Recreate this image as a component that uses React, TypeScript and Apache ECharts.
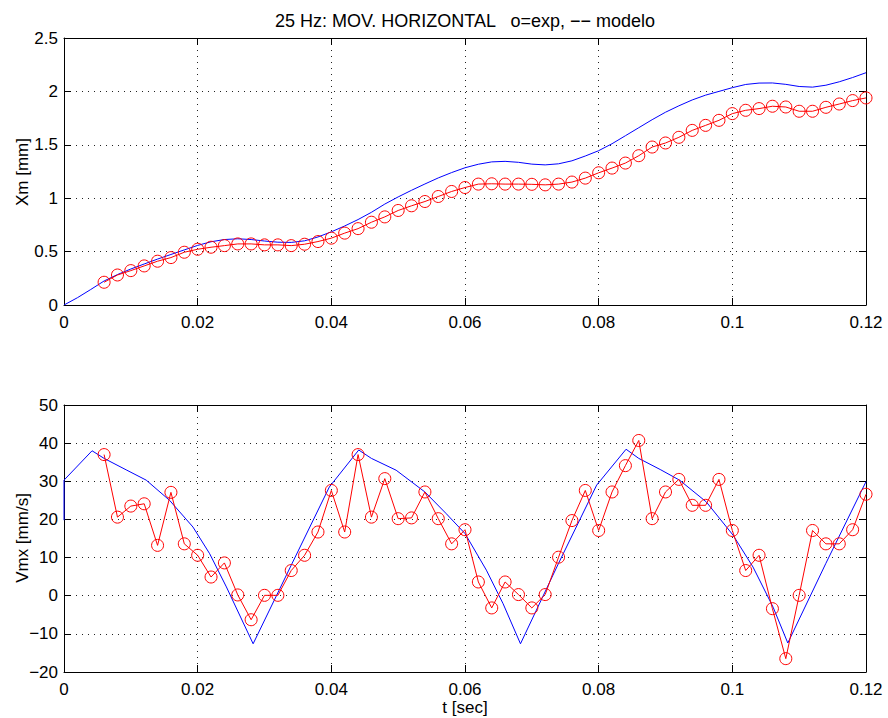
import React, { useEffect, useRef } from "react";
import * as echarts from "echarts";

// ---- data ----
const expTime = [
  0.006, 0.008, 0.01, 0.012, 0.014, 0.016, 0.018, 0.02,
  0.022, 0.024, 0.026, 0.028, 0.03, 0.032, 0.034, 0.036, 0.038, 0.04,
  0.042, 0.044, 0.046, 0.048, 0.05, 0.052, 0.054, 0.056, 0.058, 0.06,
  0.062, 0.064, 0.066, 0.068, 0.07, 0.072, 0.074, 0.076, 0.078, 0.08,
  0.082, 0.084, 0.086, 0.088, 0.09, 0.092, 0.094, 0.096, 0.098, 0.1,
  0.102, 0.104, 0.106, 0.108, 0.11, 0.112, 0.114, 0.116, 0.118, 0.12,
];

const expPosition = [
  0.213, 0.281, 0.322, 0.366, 0.41, 0.444, 0.494, 0.522,
  0.541, 0.556, 0.572, 0.572, 0.563, 0.563, 0.556, 0.569, 0.594, 0.626,
  0.673, 0.715, 0.775, 0.825, 0.885, 0.929, 0.969, 1.016, 1.063, 1.1,
  1.132, 1.135, 1.132, 1.132, 1.13, 1.125, 1.132, 1.151, 1.188, 1.238,
  1.282, 1.329, 1.398, 1.479, 1.517, 1.57, 1.635, 1.682, 1.729, 1.792,
  1.823, 1.839, 1.861, 1.854, 1.814, 1.814, 1.851, 1.882, 1.914, 1.939,
];

const expVelocity = [
  37.0, 20.6, 23.5, 24.1, 13.2, 27.1, 13.6, 10.6,
  4.9, 8.6, 0.2, -6.3, 0.1, 0.1, 6.6, 10.6, 16.7, 27.6,
  16.7, 37.0, 20.6, 30.7, 20.2, 20.4, 27.2, 20.2, 13.6, 17.3,
  3.6, -3.2, 3.6, 0.3, -3.2, 0.3, 10.1, 19.7, 27.6, 17.1,
  27.2, 34.1, 40.7, 20.2, 27.2, 30.5, 23.7, 23.7, 30.5, 17.1,
  6.6, 10.6, -3.4, -16.5, 0.1, 17.1, 13.6, 13.6, 17.3, 26.6,
];

const modelPosTime = [
  0, 0.002, 0.004, 0.006, 0.008, 0.01, 0.012, 0.014, 0.016, 0.018, 0.02,
  0.022, 0.024, 0.026, 0.028, 0.03, 0.032, 0.034, 0.036, 0.038, 0.04,
  0.042, 0.044, 0.046, 0.048, 0.05, 0.052, 0.054, 0.056, 0.058, 0.06,
  0.062, 0.064, 0.066, 0.068, 0.07, 0.072, 0.074, 0.076, 0.078, 0.08,
  0.082, 0.084, 0.086, 0.088, 0.09, 0.092, 0.094, 0.096, 0.098, 0.1,
  0.102, 0.104, 0.106, 0.108, 0.11, 0.112, 0.114, 0.116, 0.118, 0.12,
];

const modelPosition = [
  0, 0.068, 0.145, 0.225, 0.285, 0.337, 0.384, 0.43, 0.473, 0.516, 0.558,
  0.592, 0.613, 0.62, 0.613, 0.599, 0.588, 0.586, 0.601, 0.637, 0.685,
  0.74, 0.8, 0.868, 0.945, 1.012, 1.074, 1.133, 1.19, 1.24, 1.285,
  1.318, 1.34, 1.345, 1.336, 1.319, 1.312, 1.322, 1.35, 1.395, 1.445,
  1.51, 1.585, 1.66, 1.735, 1.805, 1.865, 1.92, 1.965, 2.0, 2.035,
  2.065, 2.078, 2.079, 2.066, 2.046, 2.04, 2.058, 2.09, 2.13, 2.175,
];

const modelVelTime = [
  0, 0, 0.0042, 0.006, 0.0093, 0.0123, 0.0158, 0.0193, 0.0218, 0.0243, 0.0283,
  0.034, 0.0397, 0.0441, 0.046, 0.0497, 0.054, 0.0572, 0.06, 0.0632, 0.0657, 0.0683,
  0.074, 0.0797, 0.0841, 0.086, 0.0893, 0.0921, 0.0961, 0.1001, 0.1031, 0.1061, 0.1083,
  0.114, 0.12,
];

const modelVelocity = [
  19.8, 30.3, 38.0, 36.0, 33.0, 30.3, 25.0, 18.0, 11.0, 2.3, -12.6,
  8.0, 28.5, 38.2, 36.0, 32.9, 27.2, 21.5, 16.3, 6.7, -2.1, -12.6,
  8.5, 29.0, 38.4, 36.0, 33.0, 30.3, 24.6, 15.9, 7.5, -3.0, -12.4,
  8.5, 29.9,
];

const FONT = '"Liberation Sans", Arial, Helvetica, sans-serif';

function fmtNum(v: number): string {
  const s = String(parseFloat(Number(v).toFixed(4)));
  return s.replace("-", "\u2212");
}

function xAxes(gridIndex: number) {
  const common = {
    gridIndex,
    type: "value",
    min: 0,
    max: 0.12,
    interval: 0.02,
  };
  return [
    {
      ...common,
      position: "bottom",
      axisLine: { show: true, onZero: false, lineStyle: { color: "#000", width: 1 } },
      axisTick: { show: true, inside: true, length: 7, lineStyle: { color: "#000" } },
      axisLabel: {
        show: true,
        color: "#000",
        fontSize: 17,
        fontFamily: FONT,
        margin: 9,
        formatter: (v: number) => fmtNum(v),
      },
      splitLine: { show: true, lineStyle: { color: "#222", width: 1, type: [1, 5] } },
    },
    {
      ...common,
      position: "top",
      axisLine: { show: true, onZero: false, lineStyle: { color: "#000", width: 1 } },
      axisTick: { show: true, inside: true, length: 7, lineStyle: { color: "#000" } },
      axisLabel: { show: false },
      splitLine: { show: false },
    },
  ];
}

function yAxes(gridIndex: number, min: number, max: number, interval: number) {
  const common = { gridIndex, type: "value", min, max, interval };
  return [
    {
      ...common,
      position: "left",
      axisLine: { show: true, onZero: false, lineStyle: { color: "#000", width: 1 } },
      axisTick: { show: true, inside: true, length: 7, lineStyle: { color: "#000" } },
      axisLabel: {
        show: true,
        color: "#000",
        fontSize: 17,
        fontFamily: FONT,
        margin: 6,
        formatter: (v: number) => fmtNum(v),
      },
      splitLine: { show: true, lineStyle: { color: "#222", width: 1, type: [1, 5] } },
    },
    {
      ...common,
      position: "right",
      axisLine: { show: true, onZero: false, lineStyle: { color: "#000", width: 1 } },
      axisTick: { show: true, inside: true, length: 7, lineStyle: { color: "#000" } },
      axisLabel: { show: false },
      splitLine: { show: false },
    },
  ];
}

export default function App() {
  const ref = useRef<HTMLDivElement | null>(null);

  useEffect(() => {
    if (!ref.current) return;
    const chart = echarts.init(ref.current, null, { renderer: "svg" });

    const expPosData = expTime.map((t, i) => [t, expPosition[i]]);
    const expVelData = expTime.map((t, i) => [t, expVelocity[i]]);
    const modelPosData = modelPosTime.map((t, i) => [t, modelPosition[i]]);
    const modelVelData = modelVelTime.map((t, i) => [t, modelVelocity[i]]);

    const redItem = {
      color: "rgba(0,0,0,0)",
      borderColor: "#ff0000",
      borderWidth: 1,
    };

    chart.setOption({
      animation: false,
      backgroundColor: "#ffffff",
      grid: [
        { left: 64, top: 38, width: 802, height: 267, show: false },
        { left: 64, top: 405, width: 802, height: 267, show: false },
      ],
      xAxis: [...xAxes(0), ...xAxes(1)],
      yAxis: [...yAxes(0, 0, 2.5, 0.5), ...yAxes(1, -20, 50, 10)],
      series: [
        {
          type: "line",
          xAxisIndex: 0,
          yAxisIndex: 0,
          data: modelPosData,
          showSymbol: false,
          lineStyle: { color: "#0000ff", width: 1 },
          itemStyle: { color: "#0000ff" },
          z: 2,
        },
        {
          type: "line",
          xAxisIndex: 0,
          yAxisIndex: 0,
          data: expPosData,
          symbol: "circle",
          symbolSize: 12,
          showSymbol: true,
          lineStyle: { color: "#ff0000", width: 1 },
          itemStyle: redItem,
          z: 3,
        },
        {
          type: "line",
          xAxisIndex: 2,
          yAxisIndex: 2,
          data: modelVelData,
          showSymbol: false,
          lineStyle: { color: "#0000ff", width: 1 },
          itemStyle: { color: "#0000ff" },
          z: 2,
        },
        {
          type: "line",
          xAxisIndex: 2,
          yAxisIndex: 2,
          data: expVelData,
          symbol: "circle",
          symbolSize: 12,
          showSymbol: true,
          lineStyle: { color: "#ff0000", width: 1 },
          itemStyle: redItem,
          z: 3,
        },
      ],
      graphic: [
        {
          type: "text",
          x: 465,
          y: 21,
          style: {
            text: "25 Hz: MOV. HORIZONTAL   o=exp, \u2212\u2212 modelo",
            font: `18px ${FONT}`,
            fill: "#000",
            align: "center",
            verticalAlign: "middle",
          },
        },
        {
          type: "text",
          x: 22,
          y: 172,
          rotation: Math.PI / 2,
          style: {
            text: "Xm [mm]",
            font: `17px ${FONT}`,
            fill: "#000",
            align: "center",
            verticalAlign: "middle",
          },
        },
        {
          type: "text",
          x: 22,
          y: 538,
          rotation: Math.PI / 2,
          style: {
            text: "Vmx [mm/s]",
            font: `17px ${FONT}`,
            fill: "#000",
            align: "center",
            verticalAlign: "middle",
          },
        },
        {
          type: "text",
          x: 465,
          y: 707,
          style: {
            text: "t [sec]",
            font: `17px ${FONT}`,
            fill: "#000",
            align: "center",
            verticalAlign: "middle",
          },
        },
      ],
    });

    return () => {
      chart.dispose();
    };
  }, []);

  return (
    <div
      ref={ref}
      style={{ position: "absolute", left: 0, top: 0, width: 888, height: 718 }}
    />
  );
}
